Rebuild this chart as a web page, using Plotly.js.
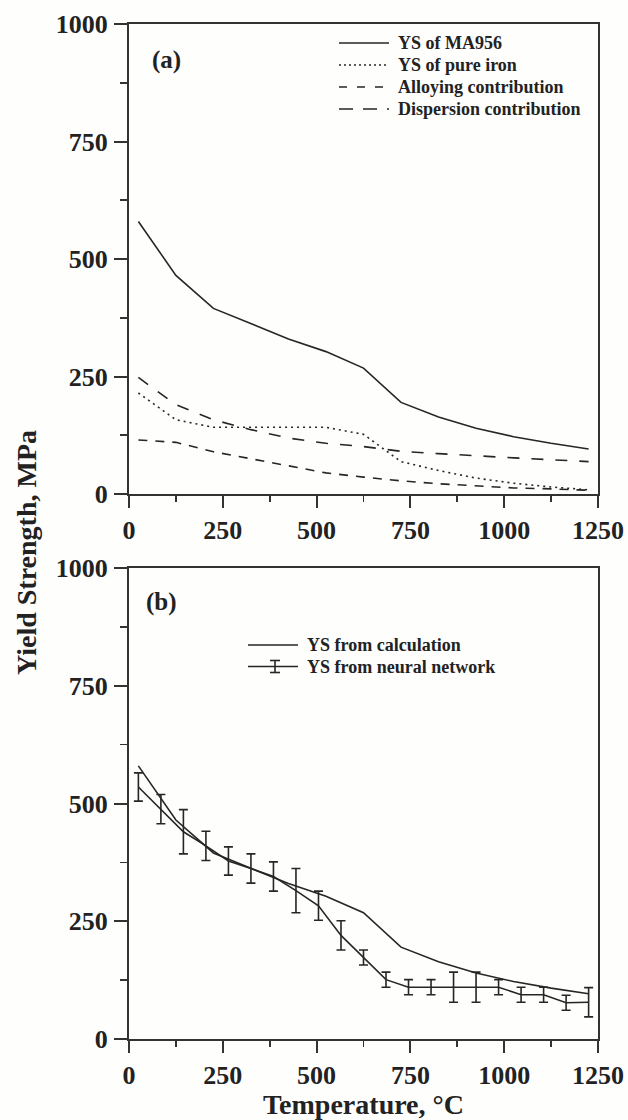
<!DOCTYPE html>
<html>
<head>
<meta charset="utf-8">
<script src="https://cdn.plot.ly/plotly-3.0.1.min.js"></script>
<style>html,body{margin:0;padding:0;background:#fff;}#chart{width:628px;height:1120px;}</style>
</head>
<body>
<div id="chart"></div>
<script>
// ---- data ----
const temps = [25, 125, 225, 325, 425, 525, 625, 725, 825, 925, 1025, 1125, 1225];
const ysMA956 = [580, 465, 395, 363, 330, 303, 268, 195, 164, 140, 122, 108, 96];
const ysPureIron = [215, 158, 142, 142, 142, 142, 127, 69, 50, 34, 23, 15, 9];
const alloyingContribution = [115, 110, 90, 75, 60, 45, 36, 28, 22, 17, 13, 11, 8];
const dispersionContribution = [248, 190, 158, 137, 119, 108, 101, 91, 86, 81, 77, 73, 69];

const nnTemps = [25, 85, 145, 205, 265, 325, 385, 445, 505, 565, 625, 685, 745, 805, 865, 925, 985, 1045, 1105, 1165, 1225];
const nnYS = [535, 488, 440, 410, 378, 362, 345, 315, 283, 220, 173, 126, 110, 110, 110, 110, 110, 94, 94, 77, 78];
const nnErr = [30, 31, 47, 31, 30, 31, 31, 47, 31, 31, 16, 16, 16, 16, 32, 32, 16, 16, 16, 16, 31];

const xTicks = [0, 250, 500, 750, 1000, 1250];
const yTicks = [0, 250, 500, 750, 1000];

const topLegendNames = ['YS of MA956', 'YS of pure iron', 'Alloying contribution', 'Dispersion contribution'];
const bottomLegendNames = ['YS from calculation', 'YS from neural network'];
const panelLabels = ['(a)', '(b)'];
const xTitle = 'Temperature, °C';
const yTitle = 'Yield Strength, MPa';

// ---- styling ----
const W = 628, H = 1120;
const M = {l: 129, r: 30, t: 24, b: 81};
const serif = '"Liberation Serif", "Times New Roman", Times, serif';
const ink = '#262626';
const lw = 1.6;
const dashes = {solid: 'solid', dotted: '2px,4px', short: '9px,8px', long: '12px,12px'};
const topStyles = [dashes.solid, dashes.dotted, dashes.short, dashes.long];
const topSeries = [ysMA956, ysPureIron, alloyingContribution, dispersionContribution];

const traces = topSeries.map((ys, i) => ({
  x: temps, y: ys, name: topLegendNames[i], mode: 'lines',
  line: {color: ink, width: lw, dash: topStyles[i]}, xaxis: 'x', yaxis: 'y', showlegend: false
}));
traces.push({x: temps, y: ysMA956, name: bottomLegendNames[0], mode: 'lines', line: {color: ink, width: lw}, xaxis: 'x2', yaxis: 'y2', showlegend: false});
traces.push({x: nnTemps, y: nnYS, name: bottomLegendNames[1], mode: 'lines',
  line: {color: ink, width: lw},
  error_y: {type: 'data', array: nnErr, visible: true, color: ink, thickness: 1.6, width: 4.5},
  xaxis: 'x2', yaxis: 'y2', showlegend: false});

const tickFont = {family: serif, size: 26, color: '#222', weight: 'bold'};
function xAxis(anchor, withTitle) {
  const a = {
    anchor: anchor, domain: [0, 1], range: [0, 1250],
    tickmode: 'array', tickvals: xTicks, ticktext: xTicks.map(String),
    ticks: 'outside', ticklen: 12, tickwidth: 2, tickcolor: '#333',
    minor: {tickmode: 'linear', tick0: 125, dtick: 250, ticks: 'outside', ticklen: 6, tickwidth: 1.6, tickcolor: '#333'},
    showline: true, linewidth: 2, linecolor: '#333', mirror: true,
    showgrid: false, zeroline: false, tickfont: tickFont, fixedrange: true
  };
  if (withTitle) a.title = {text: xTitle, font: {family: serif, size: 28, color: '#222', weight: 'bold'}, standoff: 4};
  return a;
}
function yAxis(anchor, domain) {
  return {
    anchor: anchor, domain: domain, range: [0, 1000],
    tickmode: 'array', tickvals: yTicks, ticktext: yTicks.map(String),
    ticks: 'outside', ticklen: 13, tickwidth: 2, tickcolor: '#333',
    minor: {tickmode: 'linear', tick0: 125, dtick: 250, ticks: 'outside', ticklen: 7, tickwidth: 1.6, tickcolor: '#333'},
    showline: true, linewidth: 2, linecolor: '#333', mirror: true,
    showgrid: false, zeroline: false, tickfont: tickFont, ticklabelstandoff: 1, fixedrange: true
  };
}

// ---- hand-built legends (key samples + labels), placed in paper coordinates ----
const pw = W - M.l - M.r, ph = H - M.t - M.b;
const px2x = p => (p - M.l) / pw;
const py2y = p => (H - M.b - p) / ph;
const legendFont = {family: serif, size: 18, color: '#222', weight: 'bold'};
const shapes = [];
const annotations = [];

function legendBlock(names, styles, keyX0, keyX1, textX, rowY0, rowGap) {
  names.forEach((name, i) => {
    const yy = py2y(rowY0 + i * rowGap);
    const st = styles[i];
    shapes.push({type: 'line', xref: 'paper', yref: 'paper', x0: px2x(keyX0), x1: px2x(keyX1), y0: yy, y1: yy,
      line: {color: ink, width: lw, dash: st === 'errorbar' ? 'solid' : st}});
    if (st === 'errorbar') {
      const cx = (keyX0 + keyX1) / 2 + 2, half = 6, cap = 5;
      shapes.push({type: 'line', xref: 'paper', yref: 'paper', x0: px2x(cx), x1: px2x(cx), y0: yy + half / ph, y1: yy - half / ph, line: {color: ink, width: lw}});
      shapes.push({type: 'line', xref: 'paper', yref: 'paper', x0: px2x(cx - cap), x1: px2x(cx + cap), y0: yy + half / ph, y1: yy + half / ph, line: {color: ink, width: lw}});
      shapes.push({type: 'line', xref: 'paper', yref: 'paper', x0: px2x(cx - cap), x1: px2x(cx + cap), y0: yy - half / ph, y1: yy - half / ph, line: {color: ink, width: lw}});
    }
    annotations.push({text: name, xref: 'paper', yref: 'paper', x: px2x(textX), y: yy, xanchor: 'left', yanchor: 'middle',
      showarrow: false, font: legendFont});
  });
}
legendBlock(topLegendNames, ['solid', '2px,3px', '8px,10px', '14px,10px'], 339, 389, 396, 43, 22);
legendBlock(bottomLegendNames, ['solid', 'errorbar'], 248, 298, 305, 645, 21.5);

annotations.push(
  {text: panelLabels[0], xref: 'x domain', yref: 'y domain', x: 0.045, y: 0.924, xanchor: 'left', yanchor: 'middle', showarrow: false, font: {family: serif, size: 25, color: '#222', weight: 'bold'}},
  {text: panelLabels[1], xref: 'x2 domain', yref: 'y2 domain', x: 0.033, y: 0.928, xanchor: 'left', yanchor: 'middle', showarrow: false, font: {family: serif, size: 25, color: '#222', weight: 'bold'}},
  {text: yTitle, xref: 'paper', yref: 'paper', x: px2x(26), y: py2y(553), xanchor: 'center', yanchor: 'middle', textangle: -90, showarrow: false, font: {family: serif, size: 28, color: '#222', weight: 'bold'}}
);

const layout = {
  width: W, height: H,
  margin: M,
  paper_bgcolor: '#fefefd', plot_bgcolor: '#fefefd',
  showlegend: false,
  xaxis: xAxis('y', false),
  yaxis: yAxis('x', [0.5369, 1]),
  xaxis2: xAxis('y2', true),
  yaxis2: yAxis('x2', [0, 0.4640]),
  shapes: shapes,
  annotations: annotations
};

Plotly.newPlot('chart', traces, layout, {displayModeBar: false, staticPlot: true});
</script>
</body>
</html>
